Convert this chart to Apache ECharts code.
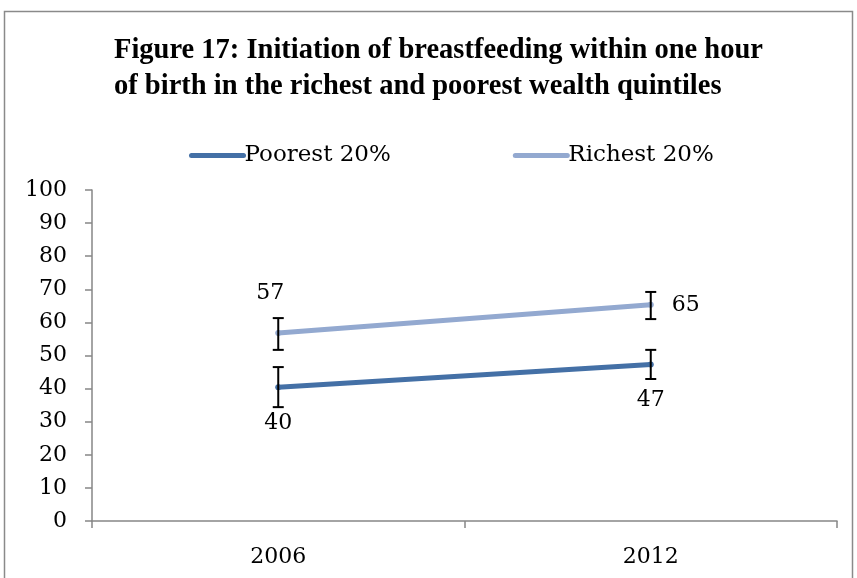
<!DOCTYPE html>
<html><head><meta charset="utf-8">
<script src="https://cdn.jsdelivr.net/npm/echarts@6/dist/echarts.min.js"></script>
<style>html,body{margin:0;padding:0;background:#fff}#c{width:857px;height:578px}</style>
</head><body><div id="c"></div>
<script>
var categories = ['2006', '2012'];
var poorest = [40.4, 47.3];
var richest = [56.8, 65.3];
var poorestLow = [34.4, 42.9];
var poorestHigh = [46.5, 51.7];
var richestLow = [51.7, 61.0];
var richestHigh = [61.3, 69.2];
var yTicks = [0, 10, 20, 30, 40, 50, 60, 70, 80, 90, 100];

var FONT = 'DejaVu Serif';
var TFONT = 'Liberation Serif';
var cPoor = '#4470a6';
var cRich = '#93a9d0';

function errSeries(name, low, high) {
  return {
    type: 'custom', name: name + ' err', silent: true, z: 5,
    data: categories.map(function (c, i) { return [i, low[i], high[i]]; }),
    renderItem: function (params, api) {
      var lo = api.coord([api.value(0), api.value(1)]);
      var hi = api.coord([api.value(0), api.value(2)]);
      var w = 5.5;
      var st = { stroke: '#000', lineWidth: 2 };
      return { type: 'group', children: [
        { type: 'line', shape: { x1: lo[0], y1: lo[1], x2: hi[0], y2: hi[1] }, style: st },
        { type: 'line', shape: { x1: lo[0] - w, y1: lo[1], x2: lo[0] + w, y2: lo[1] }, style: st },
        { type: 'line', shape: { x1: hi[0] - w, y1: hi[1], x2: hi[0] + w, y2: hi[1] }, style: st }
      ]};
    }
  };
}

var chart = echarts.init(document.getElementById('c'));
chart.setOption({
  backgroundColor: '#fff',
  animation: false,
  title: {
    text: 'Figure 17: Initiation of breastfeeding within one hour\nof birth in the richest and poorest wealth quintiles',
    left: 109, top: 28,
    textStyle: { fontFamily: TFONT, fontWeight: 'bold', fontSize: 28.5, lineHeight: 36, color: '#000' }
  },
  graphic: [{ type: 'rect', shape: { x: 4.5, y: 11.5, width: 848, height: 620 }, style: { fill: 'none', stroke: '#8a8a8a', lineWidth: 1.5 }, silent: true }],
  legend: {
    top: 139, left: 184, itemGap: 122, itemWidth: 52, itemHeight: 6,
    data: [
      { name: 'Poorest 20%', lineStyle: { width: 5, color: cPoor, cap: 'round' } },
      { name: 'Richest 20%', lineStyle: { width: 5, color: cRich, cap: 'round' } }
    ],
    textStyle: { fontFamily: FONT, fontSize: 23, color: '#000', padding: [0, 0, 0, -4] }
  },
  grid: { left: 92, right: 20, top: 190, bottom: 57 },
  xAxis: {
    type: 'category', data: categories, boundaryGap: true,
    axisLine: { lineStyle: { color: '#868686', width: 1.5 } },
    axisTick: { show: true, length: 7, lineStyle: { color: '#868686', width: 1.5 } },
    axisLabel: { fontFamily: FONT, fontSize: 22, color: '#000', margin: 25 }
  },
  yAxis: {
    type: 'value', min: 0, max: 100, interval: 10,
    axisLine: { show: true, lineStyle: { color: '#868686', width: 1.5 } },
    axisTick: { show: true, length: 7, lineStyle: { color: '#868686', width: 1.5 } },
    splitLine: { show: false },
    axisLabel: { fontFamily: FONT, fontSize: 22, color: '#000', margin: 25,
      formatter: function (v) { return yTicks.indexOf(v) >= 0 ? String(v) : ''; } }
  },
  series: [
    {
      name: 'Poorest 20%', type: 'line', data: poorest, z: 3,
      symbol: 'circle', symbolSize: 6, color: cPoor,
      lineStyle: { width: 5, color: cPoor, cap: 'round' },
      itemStyle: { color: cPoor },
      label: { show: true, position: 'bottom', distance: 22, fontFamily: FONT, fontSize: 22, color: '#000',
        formatter: function (p) { return Math.round(p.value); } }
    },
    {
      name: 'Richest 20%', type: 'line', z: 3,
      data: [
        { value: richest[0], label: { position: 'top', distance: 26, offset: [-8, 0] } },
        { value: richest[1], label: { position: 'right', distance: 18 } }
      ],
      symbol: 'circle', symbolSize: 6, color: cRich,
      lineStyle: { width: 5, color: cRich, cap: 'round' },
      itemStyle: { color: cRich },
      label: { show: true, fontFamily: FONT, fontSize: 22, color: '#000',
        formatter: function (p) { return Math.round(p.value); } }
    },
    errSeries('Poorest 20%', poorestLow, poorestHigh),
    errSeries('Richest 20%', richestLow, richestHigh)
  ]
});
</script></body></html>
